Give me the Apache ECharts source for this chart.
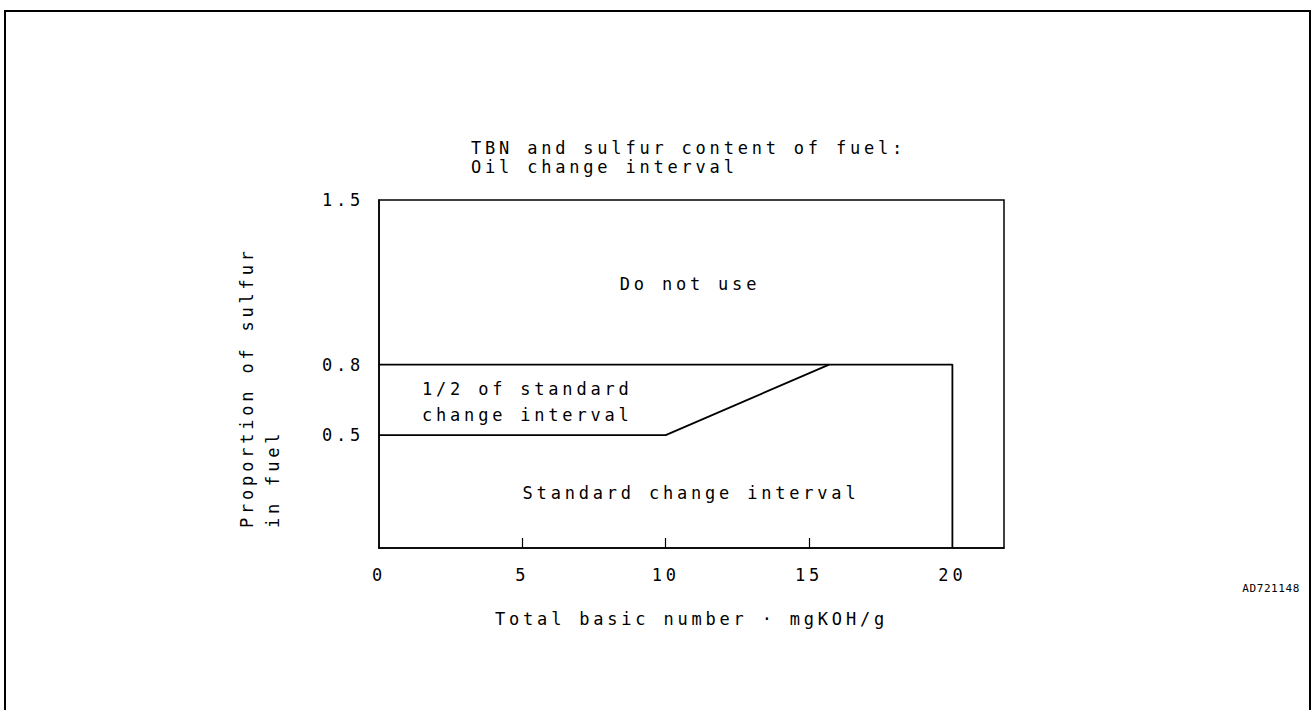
<!DOCTYPE html>
<html>
<head>
<meta charset="utf-8">
<title>TBN and sulfur content of fuel</title>
<script src="https://cdn.jsdelivr.net/npm/echarts@6/dist/echarts.min.js"></script>
<style>
  html, body { margin: 0; padding: 0; background: #fff; }
  #chart { width: 1313px; height: 710px; }
  /* plotter-style lettering: fixed pitch with wide spacing */
  #chart text { letter-spacing: 3.8px; }
  #chart text[style*="11px"] { letter-spacing: 0.6px; }
</style>
</head>
<body>
<div id="chart"></div>
<script>
// axis ticks / labels
var xLabelValues = [0, 5, 10, 15, 20];
var xTickValues = [5, 10, 15];
var yLabelValues = [0.5, 0.8, 1.5];

// boundary: "Do not use" above 0.8 up to TBN 20
var upperX = [0, 20, 20];
var upperY = [0.8, 0.8, 0.02];

// boundary: standard interval below this line
var lowerX = [0, 10, 15.7];
var lowerY = [0.5, 0.5, 0.8];

function pairs(xs, ys) {
  return xs.map(function (x, i) { return [x, ys[i]]; });
}

var font = "'DejaVu Sans Mono', 'Liberation Mono', monospace";

var chart = echarts.init(document.getElementById("chart"), null, { renderer: "svg" });

var option = {
  backgroundColor: "#fff",
  animation: false,
  title: {
    text: "TBN and sulfur content of fuel:\nOil change interval",
    left: 471,
    top: 138,
    padding: 0,
    textStyle: {
      fontFamily: font,
      fontSize: 17,
      fontWeight: "normal",
      color: "#000",
      lineHeight: 19
    }
  },
  grid: {
    left: 379,
    right: 309,
    top: 200,
    bottom: 162,
    show: true,
    borderColor: "#000",
    borderWidth: 1.5
  },
  xAxis: {
    type: "value",
    min: 0,
    max: 21.8,
    name: "Total basic number · mgKOH/g",
    nameLocation: "middle",
    nameGap: 62,
    nameTextStyle: { fontFamily: font, fontSize: 17, color: "#000" },
    axisLine: { lineStyle: { color: "#000", width: 1.5 } },
    axisTick: {
      inside: true,
      length: 10,
      customValues: xTickValues,
      lineStyle: { color: "#000", width: 1.2 }
    },
    axisLabel: {
      customValues: xLabelValues,
      margin: 18,
      fontFamily: font,
      fontSize: 17,
      color: "#000"
    },
    splitLine: { show: false }
  },
  yAxis: {
    type: "value",
    min: 0.02,
    max: 1.5,
    axisLine: { show: true, lineStyle: { color: "#000", width: 1.5 } },
    axisTick: { show: false },
    axisLabel: {
      customValues: yLabelValues,
      margin: 15,
      fontFamily: font,
      fontSize: 17,
      color: "#000",
      formatter: function (v) { return v.toFixed(1); }
    },
    splitLine: { show: false }
  },
  series: [
    {
      name: "upper limit",
      type: "line",
      data: pairs(upperX, upperY),
      symbol: "none",
      silent: true,
      lineStyle: { color: "#000", width: 1.8 }
    },
    {
      name: "lower limit",
      type: "line",
      data: pairs(lowerX, lowerY),
      symbol: "none",
      silent: true,
      lineStyle: { color: "#000", width: 1.8 }
    }
  ],
  graphic: [
    {
      type: "rect",
      shape: { x: 5, y: 11, width: 1305, height: 760 },
      style: { fill: null, stroke: "#000", lineWidth: 2 },
      silent: true
    },
    {
      type: "text",
      x: 690, y: 284,
      style: {
        text: "Do not use",
        font: "17px " + font,
        fill: "#000",
        textAlign: "center",
        textVerticalAlign: "middle"
      }
    },
    {
      type: "text",
      x: 422, y: 375.5,
      style: {
        text: "1/2 of standard\nchange interval",
        font: "17px " + font,
        lineHeight: 26,
        fill: "#000",
        textAlign: "left",
        textVerticalAlign: "top"
      }
    },
    {
      type: "text",
      x: 691, y: 493,
      style: {
        text: "Standard change interval",
        font: "17px " + font,
        fill: "#000",
        textAlign: "center",
        textVerticalAlign: "middle"
      }
    },
    {
      type: "text",
      x: 247, y: 528,
      rotation: Math.PI / 2,
      style: {
        text: "Proportion of sulfur",
        font: "17px " + font,
        fill: "#000",
        textAlign: "left",
        textVerticalAlign: "middle"
      }
    },
    {
      type: "text",
      x: 273, y: 528,
      rotation: Math.PI / 2,
      style: {
        text: "in fuel",
        font: "17px " + font,
        fill: "#000",
        textAlign: "left",
        textVerticalAlign: "middle"
      }
    },
    {
      type: "text",
      x: 1300, y: 588,
      style: {
        text: "AD721148",
        font: "11px " + font,
        fill: "#000",
        textAlign: "right",
        textVerticalAlign: "middle"
      }
    }
  ]
};

chart.setOption(option);
</script>
</body>
</html>
